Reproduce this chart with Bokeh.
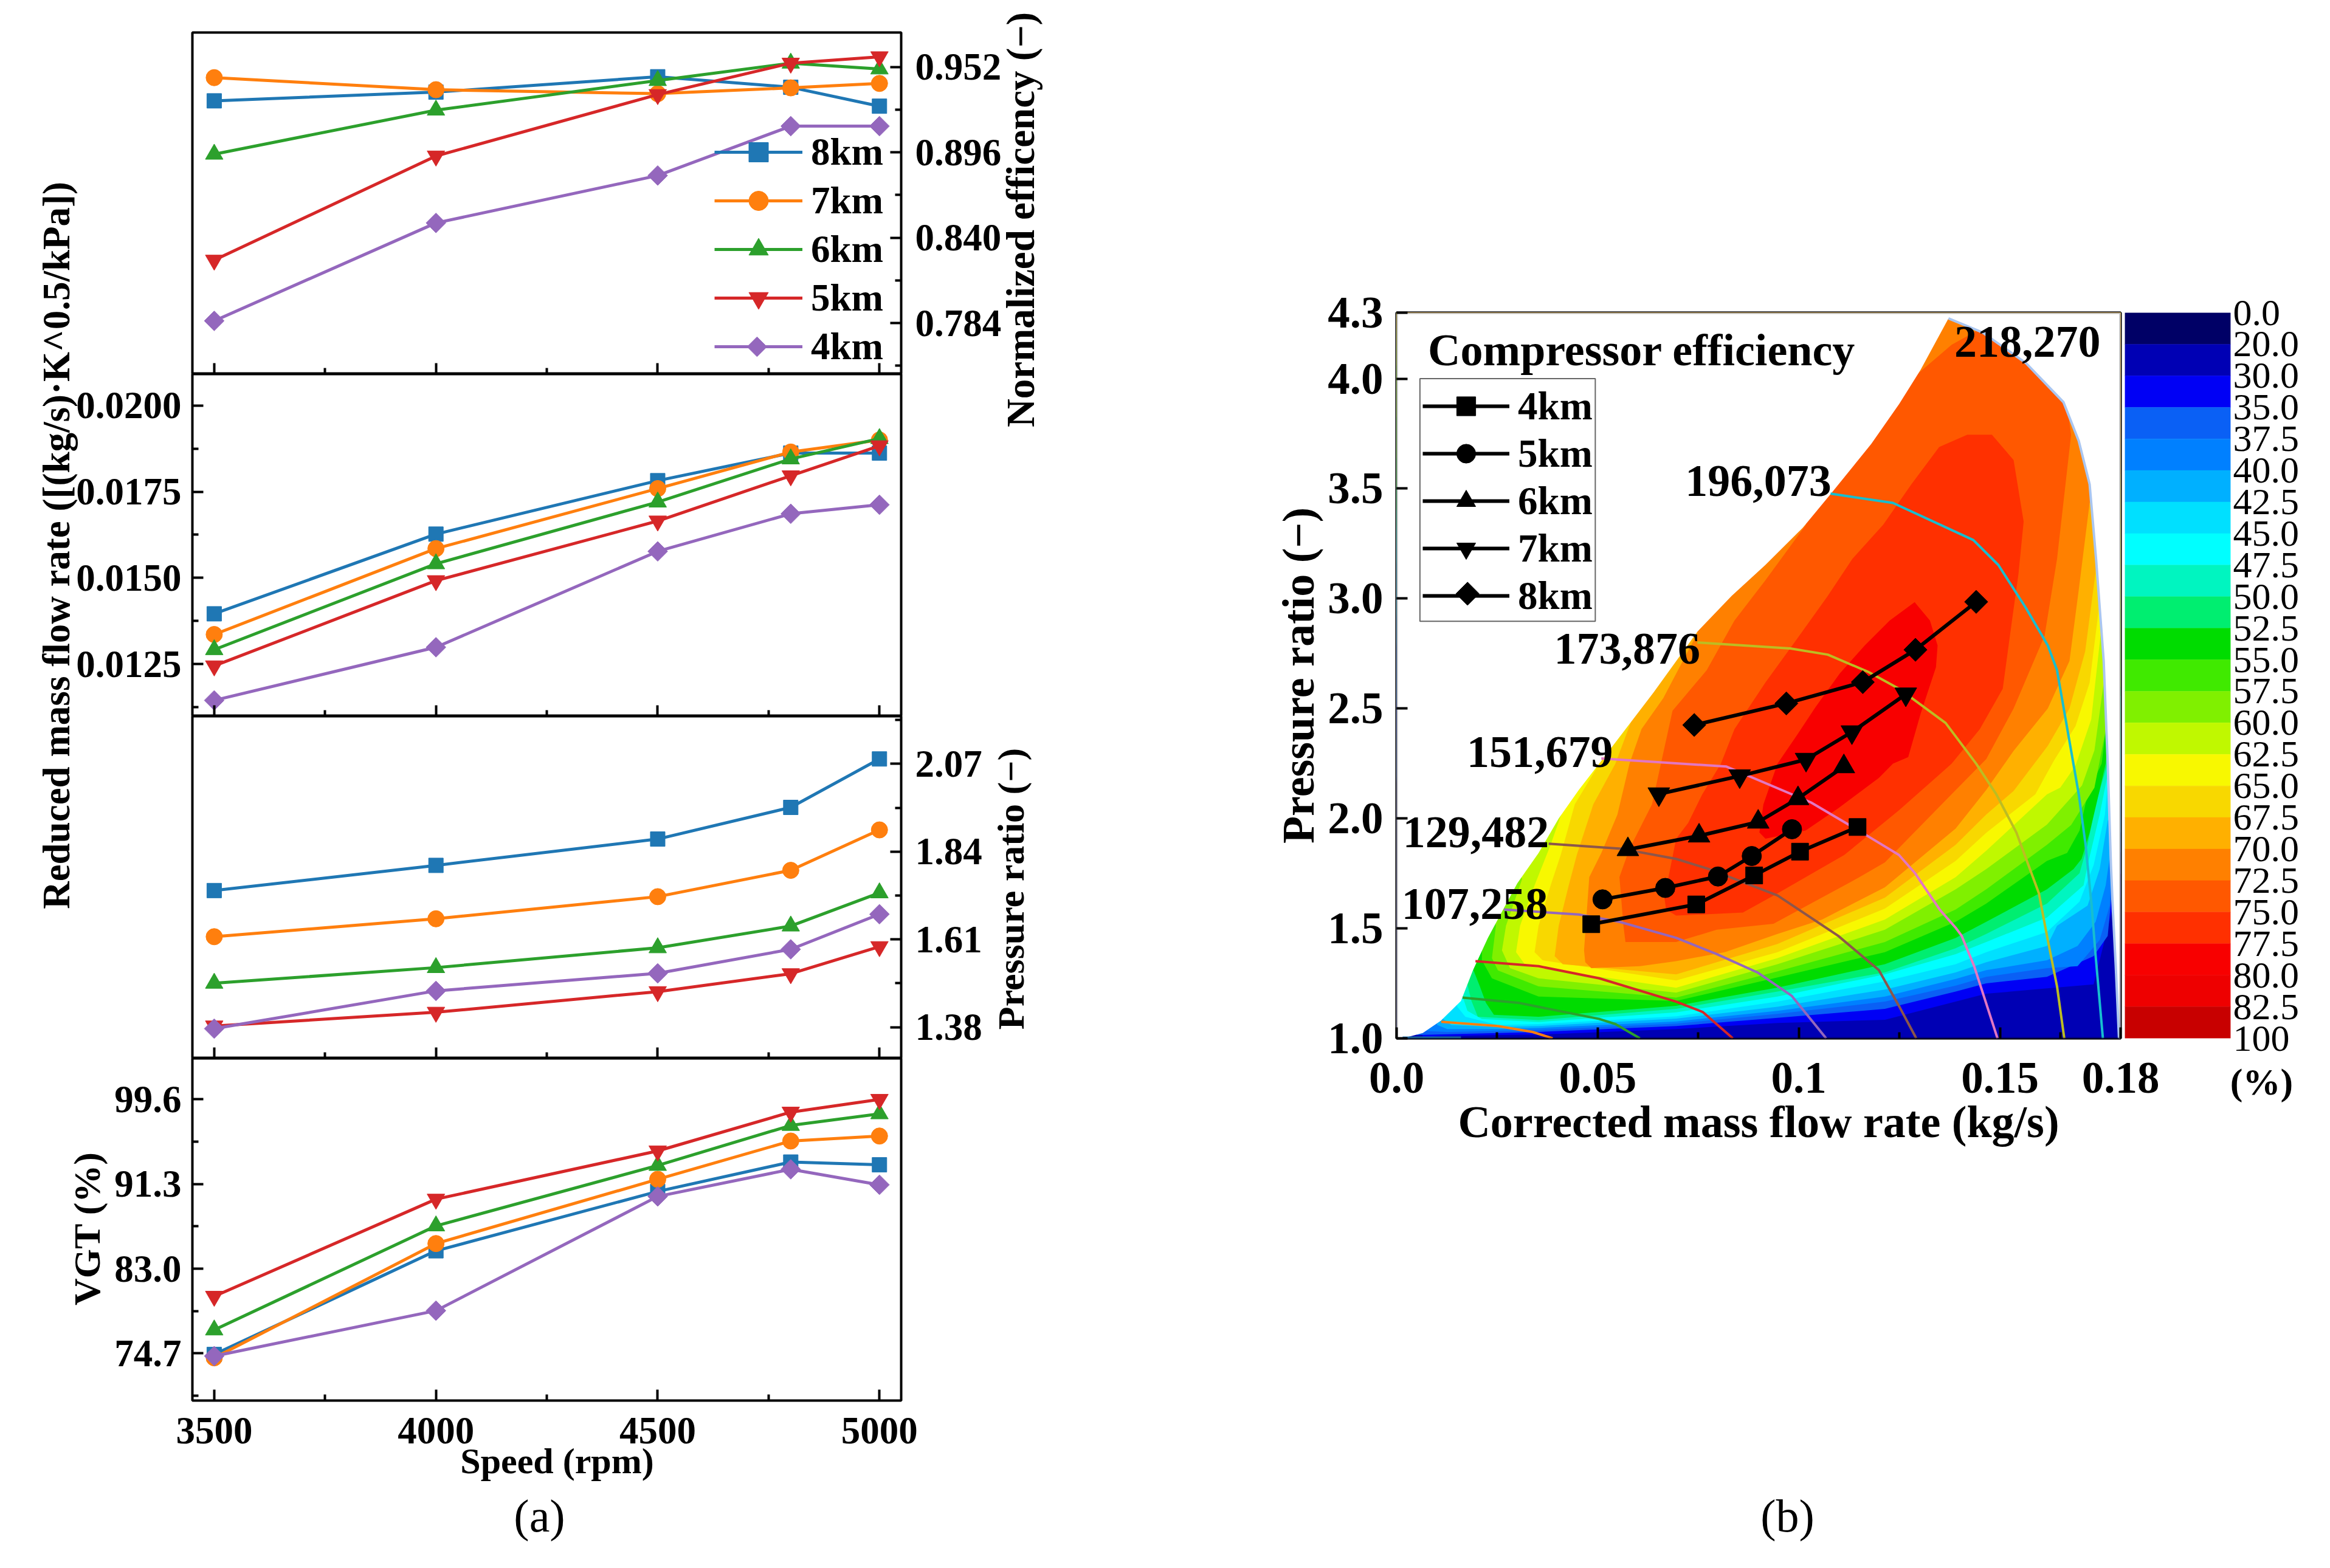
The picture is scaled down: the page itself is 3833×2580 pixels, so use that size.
import math
from bokeh.plotting import figure
from bokeh.layouts import row, column, Spacer
from bokeh.embed import file_html
from bokeh.resources import INLINE
from bokeh.models import Range1d, FixedTicker, PrintfTickFormatter, Legend, LegendItem, BoxAnnotation
from bokeh.core.properties import value

SERIF = "Liberation Serif"

# ---------- panel (a) ----------
speed = [3500, 4000, 4500, 4800, 5000]
alts = ["8km", "7km", "6km", "5km", "4km"]
alt_colors = ["#1f77b4", "#ff7f0e", "#2ca02c", "#d62728", "#9467bd"]
alt_markers = ["square", "circle", "triangle", "inverted_triangle", "square"]
alt_angles = [0, 0, 0, 0, math.pi / 4]
alt_sizes = [24, 27, 29, 29, 23]

eff_8 = [.9298, .9355, .9456, .9387, .9263]
eff_7 = [.945, .9371, .9345, .9383, .9412]
eff_6 = [.8948, .9237, .9431, .9545, .9507]
eff_5 = [.8253, .8936, .9339, .9545, .9587]
eff_4 = [.7855, .8497, .8808, .9132, .9132]

flow_8 = [.01396, .01627, .01782, .01862, .01862]
flow_7 = [.01336, .01585, .01759, .01865, .0190]
flow_6 = [.01292, .01541, .0172, .01845, .01904]
flow_5 = [.01245, .01492, .01665, .01796, .01883]
flow_4 = [.01145, .01299, .01577, .01686, .01712]

pr_8 = [1.738, 1.804, 1.873, 1.956, 2.083]
pr_7 = [1.617, 1.664, 1.722, 1.791, 1.897]
pr_6 = [1.495, 1.536, 1.588, 1.645, 1.732]
pr_5 = [1.383, 1.419, 1.473, 1.52, 1.591]
pr_4 = [1.376, 1.475, 1.521, 1.584, 1.676]

vgt_8 = [74.6, 84.76, 90.58, 93.46, 93.19]
vgt_7 = [74.27, 85.47, 91.77, 95.52, 96.01]
vgt_6 = [77.0, 87.2, 93.13, 97.05, 98.19]
vgt_5 = [80.3, 89.82, 94.55, 98.35, 99.6]
vgt_4 = [74.44, 78.89, 90.09, 92.75, 91.23]

eff_ticks = [.952, .896, .840, .784]
eff_minor = [.924, .868, .812, .756]
flow_ticks = [.0200, .0175, .0150, .0125]
flow_minor = [.01875, .01625, .01375, .01125]
pr_ticks = [2.07, 1.84, 1.61, 1.38]
pr_minor = [2.185, 1.955, 1.725, 1.495]
vgt_ticks = [99.6, 91.3, 83.0, 74.7]
vgt_minor = [95.45, 87.15, 78.85, 70.55]
speed_ticks = [3500, 4000, 4500, 5000]
speed_minor = [3750, 4250, 4750]

# ---------- panel (b): map data (flow kg/s, pressure ratio) ----------
env_left = [(0, 1.0), (.0025, 1.005), (.0065, 1.024), (.011, 1.08), (.016, 1.17), (.019, 1.31), (.0227, 1.457),
            (.030, 1.705), (.0353, 1.843), (.0403, 2.0), (.0453, 2.13), (.0504, 2.25), (.0639, 2.573), (.0748, 2.85),
            (.0833, 3.012), (.0917, 3.153), (.101, 3.322), (.108, 3.477), (.118, 3.703), (.125, 3.886), (.1303, 4.041),
            (.1372, 4.274)]
env_right = [(.1372, 4.274), (.1457, 4.21), (.1565, 4.07), (.1658, 3.893), (.1696, 3.717), (.1723, 3.52), (.1739, 3.18),
             (.1758, 2.716), (.1768, 2.25), (.1776, 1.788), (.1781, 1.576), (.1788, 1.328), (.1796, 1.0)]

band_colors = ["#000066", "#0000b4", "#0000f5", "#0a60f5", "#0080ff", "#00b0ff", "#00e0ff", "#00ffff", "#00f5c0",
               "#00ee70", "#00dc00", "#40ea00", "#80f000", "#c0f800", "#f8f800", "#f8d800", "#ffb000", "#ff8000",
               "#ff5800", "#ff3000", "#f80000", "#ee0000", "#c80000"]
band_labels = ["0.0", "20.0", "30.0", "35.0", "37.5", "40.0", "42.5", "45.0", "47.5", "50.0", "52.5", "55.0", "57.5",
               "60.0", "62.5", "65.0", "67.5", "70.0", "72.5", "75.0", "77.5", "80.0", "82.5", "100"]

b02 = [(.0065, 1.0), (.0101, 1.01), (.0252, 1.015), (.0353, 1.017), (.0695, 1.042), (.0947, 1.07), (.1214, 1.084),
       (.139, 1.167), (.1466, 1.203), (.1617, 1.227), (.1733, 1.245), (.1778, 1.576), (.182, 1.7)]
b03 = [(.005, 1.015), (.0126, 1.019), (.0252, 1.024), (.0353, 1.029), (.0695, 1.056), (.0947, 1.093), (.1214, 1.134),
       (.139, 1.213), (.1466, 1.25), (.1617, 1.28), (.1733, 1.374), (.1768, 1.466), (.178, 1.696), (.182, 1.8)]
b04 = [(.0076, 1.033), (.0126, 1.029), (.0252, 1.033), (.0353, 1.038), (.0695, 1.067), (.0947, 1.111), (.1214, 1.167),
       (.139, 1.24), (.1466, 1.28), (.1617, 1.319), (.1693, 1.328), (.1748, 1.447), (.1773, 1.604), (.1778, 1.788), (.182, 1.9)]
b05 = [(.0101, 1.061), (.0126, 1.042), (.0252, 1.042), (.0353, 1.047), (.0695, 1.077), (.0947, 1.125), (.1214, 1.19),
       (.139, 1.27), (.1466, 1.31), (.1617, 1.355), (.1693, 1.42), (.1738, 1.53), (.1763, 1.696), (.1776, 1.862), (.182, 2.0)]
b06 = [(.0116, 1.088), (.0136, 1.061), (.0252, 1.052), (.0353, 1.056), (.0695, 1.09), (.0947, 1.144), (.1214, 1.222),
       (.139, 1.30), (.1466, 1.346), (.1617, 1.42), (.1642, 1.512), (.1718, 1.604), (.1748, 1.77), (.1768, 1.99), (.182, 2.1)]
b07 = [(.0151, 1.144), (.0171, 1.098), (.0252, 1.061), (.0353, 1.065), (.0695, 1.10), (.0947, 1.167), (.1214, 1.259),
       (.139, 1.337), (.1466, 1.392), (.1617, 1.484), (.1698, 1.622), (.1733, 1.788), (.1761, 2.018), (.1768, 2.16), (.182, 2.3)]
b08 = [(.0166, 1.18), (.0176, 1.125), (.0212, 1.088), (.0353, 1.074), (.0695, 1.118), (.0947, 1.19), (.1214, 1.291),
       (.139, 1.383), (.1466, 1.438), (.1617, 1.549), (.1708, 1.696), (.1718, 1.788), (.1748, 2.018), (.1768, 2.2), (.182, 2.35)]
b09 = [(.0176, 1.245), (.0186, 1.171), (.0202, 1.098), (.0353, 1.083), (.0695, 1.134), (.0947, 1.213), (.1214, 1.30),
       (.139, 1.41), (.1466, 1.475), (.1617, 1.613), (.1698, 1.751), (.1718, 1.88), (.1738, 2.064), (.1766, 2.24), (.182, 2.4)]
b10 = [(.0191, 1.31), (.0207, 1.236), (.0222, 1.162), (.0242, 1.107), (.0353, 1.098), (.0695, 1.148), (.0947, 1.231),
       (.1214, 1.337), (.139, 1.457), (.1466, 1.53), (.1617, 1.678), (.1683, 1.77), (.1703, 1.816), (.1723, 1.935),
       (.1748, 2.129), (.1763, 2.25), (.1773, 2.5), (.182, 2.6)]
b11 = [(.0212, 1.40), (.0212, 1.355), (.0237, 1.273), (.0353, 1.19), (.0695, 1.17), (.0947, 1.277), (.1214, 1.392),
       (.139, 1.53), (.1466, 1.613), (.1617, 1.807), (.1667, 1.843), (.1698, 1.945), (.1718, 2.11), (.1753, 2.25),
       (.1763, 2.4), (.182, 2.7)]
b12 = [(.0247, 1.512), (.0237, 1.365), (.0252, 1.309), (.0353, 1.236), (.0695, 1.185), (.0947, 1.305), (.1214, 1.438),
       (.139, 1.586), (.1466, 1.678), (.1617, 1.88), (.1677, 1.97), (.1735, 2.14), (.175, 2.28), (.1766, 2.43), (.182, 2.7)]
b13 = [(.0312, 1.724), (.0272, 1.512), (.0262, 1.40), (.0282, 1.319), (.0353, 1.273), (.0695, 1.208), (.0947, 1.337),
       (.1214, 1.494), (.139, 1.678), (.1466, 1.77), (.1617, 1.972), (.1704, 2.15), (.1735, 2.31), (.1758, 2.617), (.182, 2.9)]
b14 = [(.04, 2.3), (.0418, 2.064), (.0383, 1.88), (.0343, 1.696), (.0307, 1.512), (.0297, 1.392), (.0322, 1.328),
       (.0695, 1.23), (.0947, 1.365), (.1214, 1.54), (.139, 1.733), (.1466, 1.853), (.1617, 2.11), (.165, 2.14),
       (.1688, 2.24), (.1727, 2.45), (.175, 2.83), (.182, 3.0)]
b15 = [(.05, 2.4), (.0504, 2.249), (.0443, 2.064), (.0408, 1.834), (.0383, 1.696), (.0353, 1.512), (.0343, 1.392),
       (.0363, 1.355), (.0695, 1.263), (.0947, 1.392), (.1214, 1.59), (.139, 1.807), (.1466, 1.935), (.1588, 2.11),
       (.1635, 2.265), (.1688, 2.42), (.1723, 2.617), (.1746, 2.955), (.182, 3.2)]
b16 = [(.0595, 2.6), (.0585, 2.45), (.0544, 2.249), (.0489, 2.064), (.0448, 1.834), (.0428, 1.696), (.0403, 1.512),
       (.0393, 1.374), (.0413, 1.337), (.0695, 1.291), (.0947, 1.429), (.1214, 1.64), (.139, 1.88), (.1466, 2.018),
       (.1534, 2.125), (.1619, 2.33), (.1673, 2.5), (.1712, 2.76), (.174, 3.15), (.182, 3.4)]
b17 = [(.07, 3.2), (.0748, 2.843), (.0663, 2.547), (.0609, 2.407), (.0579, 2.249), (.0549, 2.018), (.0509, 1.843),
       (.0479, 1.733), (.0466, 1.40), (.0469, 1.346), (.0484, 1.319), (.0605, 1.328), (.0695, 1.351), (.0816, 1.392),
       (.0947, 1.475), (.1058, 1.54), (.1214, 1.687), (.139, 1.954), (.1466, 2.13), (.1534, 2.307), (.1619, 2.5),
       (.1673, 2.716), (.1696, 3.04), (.1723, 3.435), (.182, 3.6)]
b18 = [(.0569, 1.438), (.0564, 1.512), (.0554, 1.733), (.0579, 1.862), (.0635, 2.064), (.0686, 2.49), (.0771, 2.674),
       (.084, 2.9), (.0917, 3.083), (.1018, 3.336), (.098, 3.45), (.12, 3.95), (.1272, 3.985), (.138, 4.154),
       (.1449, 4.224), (.165, 4.1), (.1677, 3.745), (.1642, 3.18), (.1611, 2.83), (.1534, 2.5), (.1466, 2.27),
       (.139, 2.129), (.1214, 1.80), (.1148, 1.73), (.0937, 1.521), (.0796, 1.494), (.0695, 1.438)]
b19 = [(.1480, 3.745), (.1419, 3.745), (.1349, 3.689), (.128, 3.52), (.121, 3.336), (.1133, 3.18), (.1072, 3.012),
       (.0995, 2.815), (.0917, 2.618), (.084, 2.406), (.0806, 2.248), (.076, 2.11), (.0725, 1.98), (.0695, 1.908),
       (.0675, 1.724), (.0665, 1.65), (.067, 1.586), (.0695, 1.558), (.0861, 1.572), (.0947, 1.659), (.1113, 1.834),
       (.1249, 2.037), (.138, 2.249), (.145, 2.406), (.1507, 2.59), (.153, 2.9), (.1546, 3.11), (.1559, 3.35), (.1534, 3.63)]
b20 = [(.1288, 2.984), (.1226, 2.9), (.1164, 2.787), (.1102, 2.66), (.1041, 2.505), (.0995, 2.378), (.0947, 2.249),
       (.0912, 2.064), (.0902, 1.936), (.0917, 1.908), (.1017, 1.945), (.1098, 2.046), (.1199, 2.184), (.1234, 2.249),
       (.1272, 2.279), (.1303, 2.477), (.1341, 2.688), (.1345, 2.787), (.1326, 2.9)]

line_196 = [(.1079, 3.477), (.1234, 3.435), (.1434, 3.266), (.1496, 3.153), (.1565, 2.956), (.1619, 2.787), (.1642, 2.674),
            (.1696, 2.11), (.1713, 1.88), (.1728, 1.604), (.1738, 1.374), (.1756, 1.0)]
line_173 = [(.0748, 2.80), (.0979, 2.773), (.1072, 2.745), (.1172, 2.667), (.1249, 2.59), (.1365, 2.434), (.1441, 2.249),
            (.1491, 2.11), (.1541, 1.936), (.1597, 1.659), (.1617, 1.466), (.1642, 1.236), (.1660, 1.0)]
line_151 = [(.0509, 2.273), (.082, 2.236), (.103, 2.073), (.1145, 1.949), (.1249, 1.834), (.1289, 1.751), (.135, 1.586),
            (.139, 1.503), (.1405, 1.466), (.1436, 1.328), (.1494, 1.0)]
line_129 = [(.0378, 1.885), (.0559, 1.862), (.0695, 1.816), (.0776, 1.77), (.0947, 1.65), (.1098, 1.466), (.1199, 1.31),
            (.125, 1.144), (.1292, 1.0)]
line_107 = [(.0267, 1.586), (.0453, 1.563), (.0554, 1.53), (.0695, 1.457), (.0796, 1.383), (.0897, 1.30), (.0982, 1.194),
            (.1068, 1.0)]
line_085 = [(.0196, 1.351), (.0353, 1.328), (.0504, 1.273), (.0695, 1.167), (.0761, 1.12), (.0836, 1.0)]
line_063 = [(.0164, 1.185), (.0302, 1.162), (.0504, 1.088), (.0544, 1.065), (.0605, 1.0)]
line_041 = [(.0111, 1.075), (.0252, 1.056), (.0338, 1.029), (.0388, 1.0)]
line_019 = [(.0015, 1.003), (.016, 1.003)]
speed_line_colors = ["#17becf", "#bcbd22", "#e377c2", "#8c564b", "#9467bd", "#d62728", "#2ca02c", "#ff7f0e", "#1f77b4"]

speed_names = ["218,270", "196,073", "173,876", "151,679", "129,482", "107,258"]
speed_name_x = [.175, .1081, .0755, .0538, .0379, .0376]
speed_name_y = [4.168, 3.534, 2.772, 2.303, 1.936, 1.612]

op_4_x = [.0484, .0745, .0889, .1003, .1146]
op_4_y = [1.519, 1.609, 1.741, 1.849, 1.961]
op_5_x = [.0512, .0668, .0799, .0883, .0983]
op_5_y = [1.632, 1.684, 1.736, 1.829, 1.951]
op_6_x = [.0575, .0752, .0899, .0998, .1112]
op_6_y = [1.859, 1.921, 1.984, 2.091, 2.236]
op_7_x = [.0652, .0853, .1018, .1132, .1266]
op_7_y = [2.111, 2.193, 2.268, 2.393, 2.565]
op_8_x = [.074, .0969, .1159, .129, .1441]
op_8_y = [2.425, 2.523, 2.62, 2.767, 2.985]
op_names = ["4km", "5km", "6km", "7km", "8km"]
op_markers = ["square", "circle", "triangle", "inverted_triangle", "square"]
op_angles = [0, 0, 0, 0, math.pi / 4]
op_sizes = [28, 32, 36, 36, 27]

map_x_ticks = [0.0, 0.05, 0.1, 0.15, 0.18]
map_x_labels = ["0.0", "0.05", "0.1", "0.15", "0.18"]
map_x_minor = [.025, .075, .125, .165]
map_y_ticks = [1.0, 1.5, 2.0, 2.5, 3.0, 3.5, 4.0, 4.3]

# page-level captions: text, centre x, centre y (page pixels), rotation, size, weight
cap_text = ["Reduced mass flow rate ([(kg/s)\u00b7K^0.5/kPa])", "Normalized efficency (\u2212)", "Pressure ratio (\u2212)",
            "VGT (%)", "Speed (rpm)", "(a)", "(b)", "(%)"]
cap_x = [92, 1678, 1662, 142, 916, 887, 2940, 3720]
cap_y = [897, 361, 1462, 2021, 2403, 2493, 2493, 1779]
cap_rot = [1, 1, 1, 1, 0, 0, 0, 0]
cap_size = ["63px", "65px", "62px", "62px", "60px", "76px", "76px", "62px"]
cap_style = ["bold", "bold", "bold", "bold", "bold", "normal", "normal", "bold"]

# ---------- helpers ----------
BLACK = "#000000"
H = 2560


def style_frame(p, width=4):
    p.outline_line_color = BLACK
    p.outline_line_width = width
    p.grid.visible = False
    p.background_fill_color = "white"
    p.border_fill_color = None


def style_axis(ax, size="63px"):
    ax.major_tick_in = 18
    ax.major_tick_out = 0
    ax.minor_tick_in = 10
    ax.minor_tick_out = 0
    ax.major_tick_line_width = 4
    ax.minor_tick_line_width = 4
    ax.major_tick_line_color = BLACK
    ax.minor_tick_line_color = BLACK
    ax.axis_line_color = None
    ax.major_label_text_font = SERIF
    ax.major_label_text_font_style = "bold"
    ax.major_label_text_font_size = size
    ax.major_label_text_color = BLACK


L, FW, R = 192, 1170, 166


def panel(series, yr, ticks, minor, fmt, side, ftop, fh, bottom=False):
    bot = H - 2304 if bottom else 0
    p = figure(width=L + FW + R, height=ftop + fh + bot, x_range=Range1d(3450.8, 5049), y_range=Range1d(*yr),
               toolbar_location=None, output_backend="svg", y_axis_location=side,
               min_border_left=L, min_border_right=R, min_border_top=ftop, min_border_bottom=bot)
    style_frame(p)
    style_axis(p.xaxis[0])
    p.xaxis[0].ticker = FixedTicker(ticks=speed_ticks, minor_ticks=speed_minor)
    p.xaxis[0].major_label_standoff = 28
    if not bottom:
        p.xaxis[0].major_label_overrides = {t: "" for t in speed_ticks}
        p.xaxis[0].major_label_text_font_size = "1px"
        p.xaxis[0].major_label_standoff = 0
    ya = p.yaxis[0]
    style_axis(ya)
    ya.ticker = FixedTicker(ticks=ticks, minor_ticks=minor)
    ya.formatter = PrintfTickFormatter(format=fmt)
    ya.major_label_standoff = 23 if side == "right" else 18
    items = []
    for vals, name, col, mk, ang, sz in zip(series, alts, alt_colors, alt_markers, alt_angles, alt_sizes):
        r1 = p.line(speed, vals, line_color=col, line_width=5)
        r2 = p.scatter(speed, vals, marker=mk, angle=ang, size=sz, fill_color=col, line_color=col)
        items.append(LegendItem(label=name, renderers=[r1] if ang else [r1, r2]))
    return p, items


p1, items1 = panel([eff_8, eff_7, eff_6, eff_5, eff_4], (.7506, .9746), eff_ticks, eff_minor, "%.3f", "right", 53, 562)
p2, _ = panel([flow_8, flow_7, flow_6, flow_5, flow_4], (.01099, .02091), flow_ticks, flow_minor, "%.4f", "left", 0, 563)
p3, _ = panel([pr_8, pr_7, pr_6, pr_5, pr_4], (1.298, 2.195), pr_ticks, pr_minor, "%.2f", "right", 0, 563)
p4, _ = panel([vgt_8, vgt_7, vgt_6, vgt_5, vgt_4], (70.08, 103.62), vgt_ticks, vgt_minor, "%.1f", "left", 0, 563, bottom=True)

p1.add_layout(Legend(items=items1, location=(859, 5), padding=0, margin=0, spacing=0, glyph_width=145, glyph_height=80,
                     label_height=80, label_width=120, label_standoff=14, border_line_color=None,
                     background_fill_color=None, label_text_font=SERIF, label_text_font_style="bold",
                     label_text_font_size="63px", label_text_baseline="middle", label_text_color=BLACK))
# diamond key of the 4km row (legend glyphs ignore marker rotation)
p1.scatter([4724], [.7685], marker="square", angle=math.pi / 4, size=alt_sizes[4], fill_color=alt_colors[4],
           line_color=alt_colors[4], level="overlay")

# ---------- map ----------
ML, MT, MW, MH = 240, 514, 1191, 1198
MR = 80
m = figure(width=ML + MW + MR, height=H, x_range=Range1d(0, .18), y_range=Range1d(1, 4.3), toolbar_location=None,
           output_backend="svg", min_border_left=ML, min_border_right=MR, min_border_top=MT, min_border_bottom=H - MT - MH)
style_frame(m)
style_axis(m.xaxis[0], "73px")
style_axis(m.yaxis[0], "73px")
m.xaxis[0].ticker = FixedTicker(ticks=map_x_ticks, minor_ticks=map_x_minor)
m.xaxis[0].major_label_overrides = dict(zip(map_x_ticks, map_x_labels))
m.yaxis[0].ticker = FixedTicker(ticks=map_y_ticks)
m.yaxis[0].formatter = PrintfTickFormatter(format="%.1f")
m.xaxis[0].major_label_standoff = 40
m.yaxis[0].major_label_standoff = 22
for ax, t in ((m.xaxis[0], "Corrected mass flow rate (kg/s)"), (m.yaxis[0], "Pressure ratio (\u2212)")):
    ax.axis_label = t
    ax.axis_label_text_font = SERIF
    ax.axis_label_text_font_style = "bold"
    ax.axis_label_text_font_size = "74px"
    ax.axis_label_text_color = BLACK
    ax.axis_label_standoff = 4

m.patch([-.01, .19, .19, -.01], [.9, .9, 4.5, 4.5], fill_color=band_colors[1], line_color=None)
open_bands = [b02, b03, b04, b05, b06, b07, b08, b09, b10, b11, b12, b13, b14, b15, b16, b17]
for i, b in enumerate(open_bands):
    xs = [pt[0] for pt in b] + [.19, -.01]
    ys = [pt[1] for pt in b] + [4.5, 4.5]
    m.patch(xs, ys, fill_color=band_colors[i + 2], line_color=None)
for b, k in ((b18, 18), (b19, 19), (b20, 20)):
    m.patch([pt[0] for pt in b], [pt[1] for pt in b], fill_color=band_colors[k], line_color=None)

# white outside the operating envelope
env = env_left + env_right[1:]
mask_x = [pt[0] for pt in env] + [.19, .19, -.01, -.01]
mask_y = [pt[1] for pt in env] + [.9, 4.5, 4.5, .9]
m.patch(mask_x, mask_y, fill_color="white", line_color=None)

m.line([pt[0] for pt in env_right], [pt[1] for pt in env_right], line_color="#aac6f0", line_width=4)
for ln, c in zip((line_196, line_173, line_151, line_129, line_107, line_085, line_063, line_041, line_019), speed_line_colors):
    m.line([pt[0] for pt in ln], [pt[1] for pt in ln], line_color=c, line_width=4)

m.text(speed_name_x, speed_name_y, text=speed_names, text_align="right", text_baseline="middle", text_font=value(SERIF),
       text_font_style="bold", text_font_size="74px", text_color=BLACK)
m.text([.0078], [4.13], text=["Compressor efficiency"], text_align="left", text_baseline="middle", text_font=value(SERIF),
       text_font_style="bold", text_font_size="74px", text_color=BLACK)

map_items = []
for xs, ys, nm, mk, ang, sz in zip((op_4_x, op_5_x, op_6_x, op_7_x, op_8_x), (op_4_y, op_5_y, op_6_y, op_7_y, op_8_y),
                                   op_names, op_markers, op_angles, op_sizes):
    r1 = m.line(xs, ys, line_color=BLACK, line_width=6)
    r2 = m.scatter(xs, ys, marker=mk, angle=ang, size=sz, fill_color=BLACK, line_color=BLACK)
    map_items.append(LegendItem(label=nm, renderers=[r1] if ang else [r1, r2]))
# legend box as a glyph so the 8km diamond key can sit inside it
m.quad(left=[.0058], right=[.0494], bottom=[2.897], top=[4.0], fill_color="white", line_color="#666666", line_width=2)
m.scatter([.01764], [3.022], marker="square", angle=math.pi / 4, size=op_sizes[4], fill_color=BLACK, line_color=BLACK)
m.add_layout(Legend(items=map_items, location=(43, 689), padding=5, margin=0, spacing=0, glyph_width=143, glyph_height=78,
                    label_height=78, label_standoff=14, border_line_color=None,
                    background_fill_color=None, label_text_font=SERIF,
                    label_text_font_style="bold", label_text_font_size="65px", label_text_baseline="middle",
                    label_text_color=BLACK))
m.add_layout(BoxAnnotation(left=0, right=.18, bottom=1, top=4.3, fill_color=None, line_color=BLACK, line_width=4,
                           level="overlay"))

# ---------- colour bar ----------
CW = 174
cb = figure(width=CW + 156, height=H, x_range=Range1d(0, 1), y_range=Range1d(len(band_colors), 0), toolbar_location=None,
            output_backend="svg", y_axis_location="right", min_border_left=0, min_border_right=156, min_border_top=MT,
            min_border_bottom=H - MT - 1194, margin=(0, 0, 0, 7 - MR))
cb.grid.visible = False
cb.outline_line_color = None
cb.border_fill_color = None
cb.xaxis.visible = False
cb.quad(left=0, right=1, top=list(range(len(band_colors))), bottom=list(range(1, len(band_colors) + 1)),
        fill_color=band_colors, line_color=band_colors, line_width=0.5)
ya = cb.yaxis[0]
ya.ticker = FixedTicker(ticks=list(range(len(band_labels))))
ya.major_label_overrides = {i: t for i, t in enumerate(band_labels)}
ya.major_tick_line_color = None
ya.minor_tick_line_color = None
ya.axis_line_color = None
ya.major_tick_in = 0
ya.major_tick_out = 0
ya.major_label_standoff = 4
ya.major_label_text_font = SERIF
ya.major_label_text_font_size = "62px"
ya.major_label_text_color = BLACK

# ---------- transparent page overlay holding the captions ----------
PW = 3825
ov = figure(width=PW, height=H, x_range=Range1d(0, PW), y_range=Range1d(H, 0), toolbar_location=None,
            output_backend="svg", min_border=0, margin=(-H, 0, 0, 0))
ov.axis.visible = False
ov.grid.visible = False
ov.outline_line_color = None
ov.background_fill_color = None
ov.border_fill_color = None
for t, x, y, r, s, st in zip(cap_text, cap_x, cap_y, cap_rot, cap_size, cap_style):
    ov.text([x], [y], text=[t], angle=r * math.pi / 2, text_align="center", text_baseline="middle",
            text_font=value(SERIF), text_font_style=st, text_font_size=s, text_color=BLACK)

left_col = column(p1, p2, p3, p4, spacing=0)
main = row(Spacer(width=122, height=10), left_col, Spacer(width=2057 - 1650, height=10), row(m, cb, spacing=0), spacing=0)
page = column(main, ov, spacing=0)

open("out.html", "w").write(file_html(page, INLINE))
